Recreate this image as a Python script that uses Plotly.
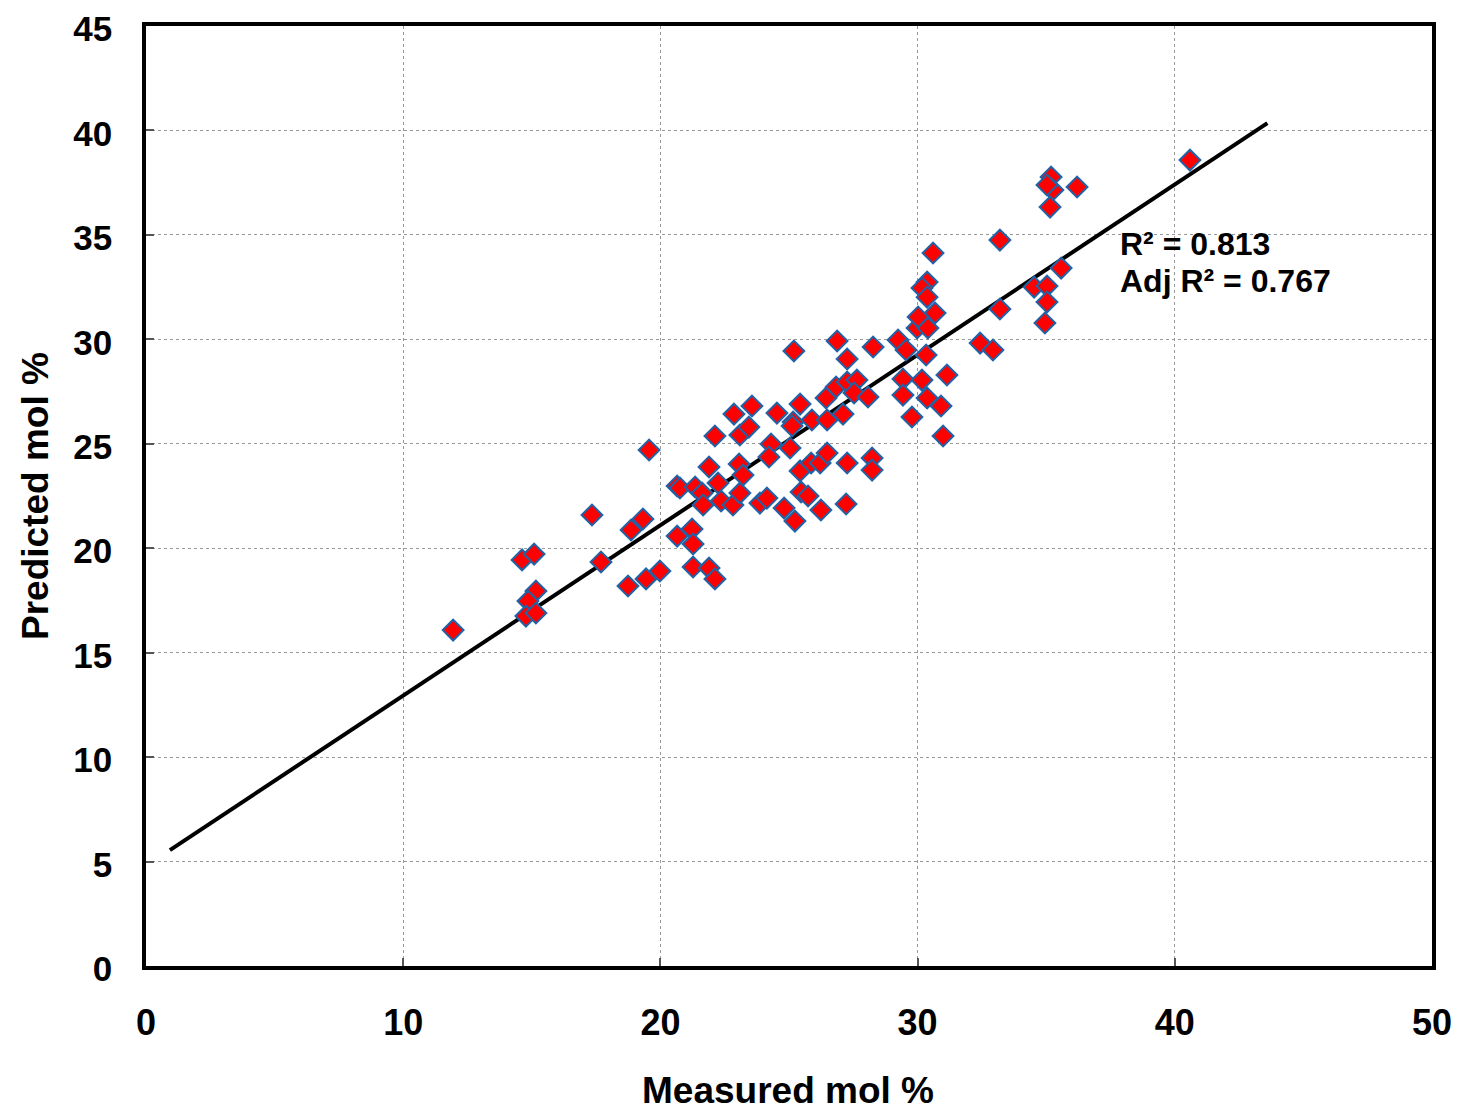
import plotly.graph_objects as go

measured = [11.94, 14.62, 15.09, 15.16, 14.85, 14.77, 15.16, 17.34, 17.69, 18.74,
            18.86, 19.32, 19.56, 19.44, 19.98, 20.65, 20.76, 20.65, 21.23, 21.27,
            21.27, 21.35, 21.62, 21.66, 21.89, 22.12, 21.89, 22.12, 22.24, 22.36,
            22.82, 23.06, 23.21, 23.09, 22.86, 23.56, 23.09, 23.44, 23.87, 24.14,
            24.30, 24.22, 24.53, 24.81, 25.04, 25.23, 25.19, 25.43, 25.16, 25.12,
            25.43, 25.47, 25.74, 25.86, 25.89, 26.21, 26.24, 26.48, 26.44, 26.48,
            26.83, 27.26, 26.87, 27.26, 27.64, 27.53, 27.10, 27.26, 27.22, 28.07,
            28.23, 28.23, 28.27, 29.24, 29.55, 29.43, 30.17, 29.43, 29.78, 30.37,
            30.91, 31.14, 30.99, 30.33, 29.98, 30.60, 30.37, 30.17, 30.37, 30.68,
            30.02, 30.40, 33.20, 33.20, 32.43, 32.93, 34.53, 35.03, 35.58, 35.03,
            34.95, 35.19, 35.26, 35.03, 36.20, 35.15, 40.59]
predicted = [16.08, 19.44, 19.72, 17.95, 17.47, 16.75, 16.90, 21.59, 19.34, 18.19,
             20.87, 21.40, 24.70, 18.53, 18.91, 22.98, 22.88, 20.58, 20.92, 20.20,
             19.10, 22.93, 22.64, 22.07, 19.05, 18.53, 23.89, 25.37, 23.12, 22.26,
             22.07, 24.03, 23.50, 22.64, 26.42, 26.81, 25.42, 25.80, 22.16, 22.40,
             24.99, 24.37, 26.47, 21.92, 24.80, 21.30, 29.44, 26.90, 26.04, 25.85,
             23.70, 22.69, 22.50, 24.08, 26.14, 24.08, 21.83, 26.14, 27.19, 24.56,
             27.72, 27.96, 29.92, 29.06, 28.05, 27.43, 26.42, 24.08, 22.12, 27.24,
             24.32, 23.74, 29.63, 29.97, 29.49, 28.10, 28.05, 27.33, 26.28, 27.19,
             26.81, 28.29, 25.37, 29.25, 30.54, 34.13, 32.74, 32.46, 32.02, 31.26,
             31.07, 30.54, 34.75, 31.45, 29.82, 29.49, 32.50, 32.55, 33.41, 31.79,
             30.78, 37.77, 37.15, 37.39, 37.29, 36.33, 38.58]

fit_slope = 0.8156
fit_intercept = 4.79
fit_x = [0.93, 43.6]
fit_y = [fit_intercept + fit_slope * v for v in fit_x]

x_ticks = [0, 10, 20, 30, 40, 50]
y_ticks = [0, 5, 10, 15, 20, 25, 30, 35, 40, 45]
stats_text = ["R² = 0.813", "Adj R² = 0.767"]
stats_y = [34.56, 32.79]
x_title = "Measured mol %"
y_title = "Predicted mol %"

FONT = "Liberation Sans, Arial, sans-serif"

fig = go.Figure()
fig.add_trace(go.Scatter(
    x=fit_x, y=fit_y, mode="lines",
    line=dict(color="black", width=4), showlegend=False, hoverinfo="skip"))
fig.add_trace(go.Scatter(
    x=measured, y=predicted, mode="markers",
    marker=dict(symbol="diamond", size=16, color="#ff0000",
                line=dict(color="#1f64a8", width=2)),
    showlegend=False))

for txt, yy in zip(stats_text, stats_y):
    fig.add_annotation(
        x=37.78, y=yy, xref="x", yref="y", xanchor="left", yanchor="middle",
        text="<b>" + txt + "</b>", align="left", showarrow=False,
        font=dict(family=FONT, size=32, color="black"))

fig.add_annotation(
    x=0.4992, y=-0.132, xref="paper", yref="paper", xanchor="center", yanchor="middle",
    text="<b>" + x_title + "</b>", showarrow=False,
    font=dict(family=FONT, size=37, color="black"))
fig.add_annotation(
    x=-0.0863, y=0.5, xref="paper", yref="paper", xanchor="center", yanchor="middle",
    text="<b>" + y_title + "</b>", showarrow=False, textangle=-90,
    font=dict(family=FONT, size=37, color="black"))

axis_common = dict(
    showline=True, linecolor="black", linewidth=3.5, mirror=True,
    ticks="inside", ticklen=8, tickwidth=1.5, tickcolor="#555555",
    showgrid=True, gridcolor="#999999", gridwidth=1, griddash="dot",
    zeroline=False, automargin=False, ticklabeloverflow="allow",
)

fig.update_layout(
    width=1453, height=1109,
    margin=dict(l=138, r=29, t=18, b=151),
    paper_bgcolor="white", plot_bgcolor="white",
    font=dict(family=FONT, color="black"),
    xaxis=dict(range=[0, 50], tickvals=x_ticks, ticktext=[f"<b>{v}</b>" for v in x_ticks],
               ticklabelstandoff=22, tickfont=dict(family=FONT, size=36, color="black"),
               **axis_common),
    yaxis=dict(range=[0, 45], tickvals=y_ticks, ticktext=[f"<b>{v}</b>" for v in y_ticks],
               ticklabelstandoff=23, ticklabelshift=3,
               tickfont=dict(family=FONT, size=35, color="black"),
               **axis_common),
)

fig.write_html("out.html")
